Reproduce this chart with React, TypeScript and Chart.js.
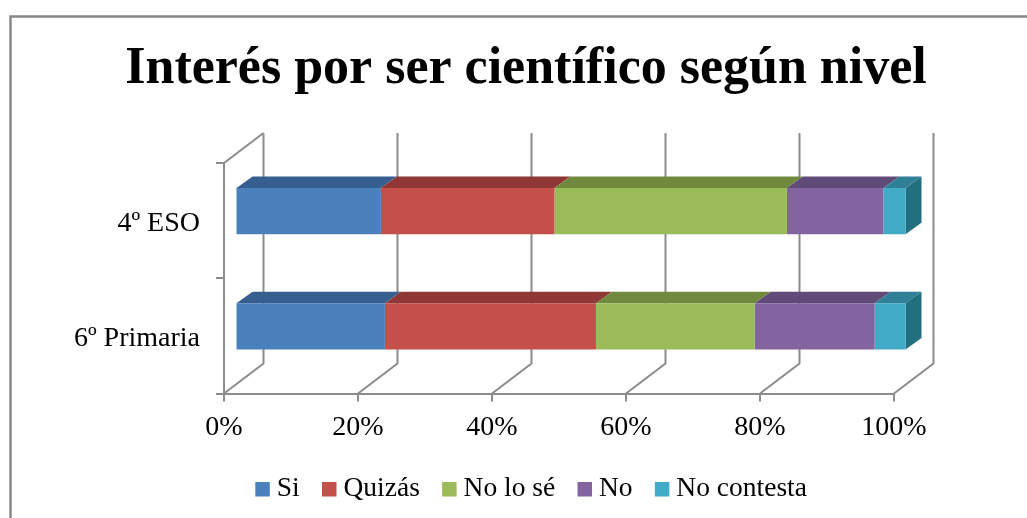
import React, { useEffect, useRef } from "react";
import { Chart, registerables } from "chart.js";

Chart.register(...registerables);

const categories = ["4º ESO", "6º Primaria"];
const si = [21.7, 22.3];
const quizas = [25.9, 31.5];
const noLoSe = [34.7, 23.7];
const no = [14.4, 17.9];
const noContesta = [3.3, 4.6];

const seriesNames = ["Si", "Quizás", "No lo sé", "No", "No contesta"];
const seriesValues = [si, quizas, noLoSe, no, noContesta];
const frontColors = ["#4A81BD", "#C4504A", "#9BBB59", "#8264A0", "#41ABC8"];
const topColors = ["#365F8F", "#8E3734", "#71893F", "#5F4A78", "#2F7F97"];
const sideColor = "#226F80";

const FONT = "'Liberation Serif', serif";
const GRID = "#8C8C8C";

const wallDepth = { dx: 39.5, dy: -30 };
const barDepth = { dx: 16, dy: -11.5 };
const barShift = { dx: 11.5, dy: -9.5 };

function poly(ctx: CanvasRenderingContext2D, pts: number[][], fill: string) {
  ctx.fillStyle = fill;
  ctx.beginPath();
  pts.forEach((p, i) => (i ? ctx.lineTo(p[0], p[1]) : ctx.moveTo(p[0], p[1])));
  ctx.closePath();
  ctx.fill();
}

const threeD = {
  id: "threeD",
  afterLayout(chart: any) {
    const t = chart.titleBlock;
    if (t) {
      t.left = 0;
      t.right = 1052;
    }
    const l = chart.legend;
    if (l) {
      l.left = 0;
      l.right = 1069;
      l.top -= 5;
      l.bottom -= 5;
    }
  },
  beforeDraw(chart: any) {
    const ctx = chart.ctx;
    ctx.save();
    ctx.fillStyle = "#FFFFFF";
    ctx.fillRect(0, 0, chart.width, chart.height);
    ctx.strokeStyle = "#868686";
    ctx.lineWidth = 2.5;
    ctx.beginPath();
    ctx.moveTo(10.5, chart.height);
    ctx.lineTo(10.5, 16.5);
    ctx.lineTo(chart.width, 16.5);
    ctx.stroke();
    ctx.restore();
  },
  beforeDatasetsDraw(chart: any) {
    const ctx = chart.ctx;
    const { left, top, bottom } = chart.chartArea;
    const xs = chart.scales.x;
    ctx.save();
    ctx.strokeStyle = GRID;
    ctx.lineWidth = 2;
    xs.ticks.forEach((t: any) => {
      const x = xs.getPixelForValue(t.value);
      ctx.beginPath();
      ctx.moveTo(x, bottom);
      ctx.lineTo(x + wallDepth.dx, bottom + wallDepth.dy);
      ctx.lineTo(x + wallDepth.dx, top + wallDepth.dy);
      ctx.stroke();
    });
    ctx.beginPath();
    ctx.moveTo(left, top);
    ctx.lineTo(left + wallDepth.dx, top + wallDepth.dy);
    ctx.stroke();
    ctx.restore();

    ctx.save();
    ctx.translate(barShift.dx, barShift.dy);
    chart.data.datasets.forEach((_: any, di: number) => {
      chart.getDatasetMeta(di).data.forEach((bar: any) => {
        const p = bar.getProps(["x", "y", "base", "height"], true);
        const t = p.y - p.height / 2;
        const b = p.y + p.height / 2;
        poly(
          ctx,
          [
            [p.base, t],
            [p.base + barDepth.dx, t + barDepth.dy],
            [p.x + barDepth.dx, t + barDepth.dy],
            [p.x, t],
          ],
          topColors[di]
        );
        if (di === chart.data.datasets.length - 1) {
          poly(
            ctx,
            [
              [p.x, t],
              [p.x + barDepth.dx, t + barDepth.dy],
              [p.x + barDepth.dx, b + barDepth.dy],
              [p.x, b],
            ],
            sideColor
          );
        }
      });
    });
  },
  afterDatasetsDraw(chart: any) {
    chart.ctx.restore();
  },
};

export default function App() {
  const ref = useRef<HTMLCanvasElement>(null);
  useEffect(() => {
    const chart = new Chart(ref.current!, {
      type: "bar",
      data: {
        labels: categories,
        datasets: seriesNames.map((label, i) => ({
          label,
          data: seriesValues[i],
          backgroundColor: frontColors[i],
          borderWidth: 0,
          clip: false as any,
          barPercentage: 0.4,
          categoryPercentage: 1,
        })),
      },
      options: {
        indexAxis: "y",
        animation: false,
        responsive: false,
        layout: { padding: { left: 0, right: 133, top: 0, bottom: 0 } },
        plugins: {
          tooltip: { enabled: false },
          title: {
            display: true,
            text: "Interés por ser científico según nivel",
            color: "#000000",
            font: { family: FONT, size: 52, weight: "bold" },
            padding: { top: 38, bottom: 62.6 },
          },
          legend: {
            position: "bottom",
            labels: {
              color: "#000000",
              font: { family: FONT, size: 27.5 },
              usePointStyle: true,
              pointStyle: "rect",
              boxWidth: 1,
              boxHeight: 14.5,
              padding: 29,
            },
          },
        },
        scales: {
          x: {
            stacked: true,
            min: 0,
            max: 100,
            afterFit: (s: any) => {
              s.height = 58;
            },
            ticks: {
              stepSize: 20,
              callback: (v: any) => v + "%",
              color: "#000000",
              font: { family: FONT, size: 28 },
              padding: 9,
              maxRotation: 0,
            },
            grid: { drawOnChartArea: false, color: GRID, lineWidth: 2, tickLength: 8 },
            border: { display: true, color: GRID, width: 2 },
          },
          y: {
            stacked: true,
            afterFit: (s: any) => {
              s.width = 224;
            },
            ticks: {
              color: "#000000",
              font: { family: FONT, size: 28 },
              padding: 16,
              labelOffset: 3,
            },
            grid: { drawOnChartArea: false, color: GRID, lineWidth: 2, tickLength: 8 },
            border: { display: true, color: GRID, width: 2 },
          },
        },
      },
      plugins: [threeD],
    } as any);
    return () => chart.destroy();
  }, []);
  return (
    <canvas
      ref={ref}
      width={1027}
      height={518}
      style={{ position: "fixed", left: 0, top: 0, display: "block" }}
    />
  );
}
